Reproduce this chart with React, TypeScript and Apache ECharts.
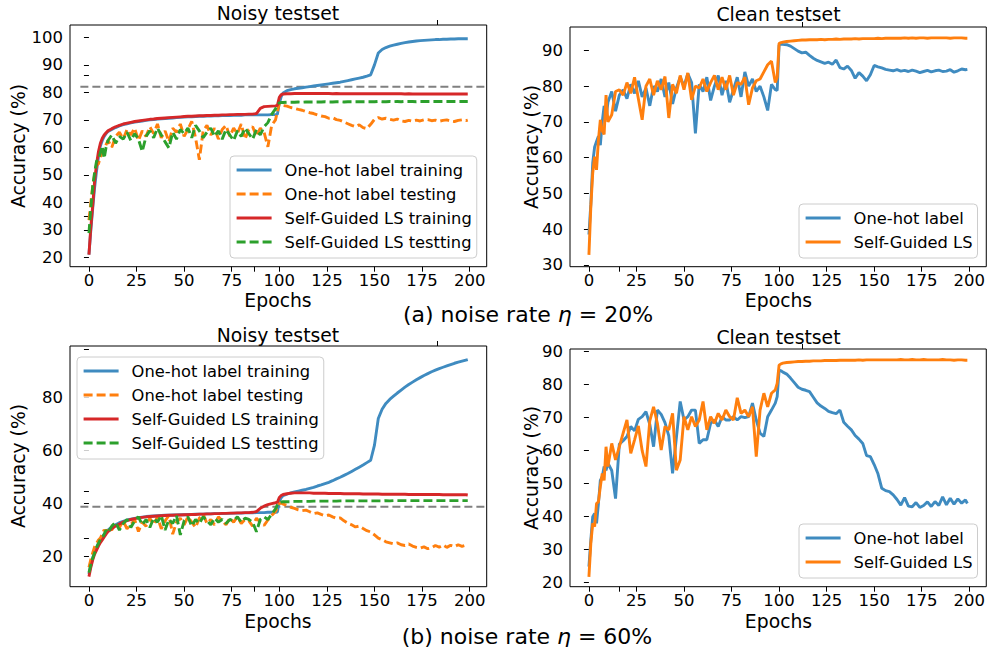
import React, { useEffect, useRef } from "react";
import * as echarts from "echarts";

// ---------- data ----------
const EPOCHS = [
  0, 1, 2, 3, 4, 5, 6, 7, 8, 9, 10,
  12, 14, 16, 18, 20, 22, 24, 26, 28, 30,
  32, 34, 36, 38, 40, 42, 44, 46, 48, 50,
  52, 54, 56, 58, 60, 62, 64, 66, 68, 70,
  72, 74, 76, 78, 80, 82, 84, 86, 88, 90,
  92, 94, 96, 98, 99, 100, 101,
  102, 104, 106, 108, 110, 112, 114, 116, 118, 120,
  122, 124, 126, 128, 130, 132, 134, 136, 138, 140,
  142, 144, 146, 148, 150, 152, 154, 156, 158, 160,
  162, 164, 166, 168, 170, 172, 174, 176, 178, 180,
  182, 184, 186, 188, 190, 192, 194, 196, 198, 199,
];

// (a) noise 20% - noisy testset
const A_ONEHOT_TRAIN = [
  21, 30, 38, 45.5, 51.5, 56.5, 60.5, 62.5, 64, 65, 65.8,
  66.5, 67.2, 67.8, 68.3, 68.6, 68.9, 69.2, 69.4, 69.6, 69.8,
  70, 70.1, 70.3, 70.4, 70.5, 70.6, 70.7, 70.8, 70.9, 71,
  71.1, 71.1, 71.2, 71.3, 71.3, 71.4, 71.4, 71.5, 71.5, 71.6,
  71.6, 71.6, 71.7, 71.7, 71.7, 71.8, 71.8, 71.8, 71.8, 71.8,
  71.8, 71.8, 71.9, 71.9, 72, 76, 78.5,
  79.8, 80.6, 81, 81.3, 81.5, 81.7, 81.9, 82.1, 82.3, 82.5,
  82.7, 82.9, 83.1, 83.3, 83.5, 83.7, 84, 84.3, 84.6, 84.9,
  85.2, 85.5, 85.9, 86.4, 90, 94.3, 95.6, 96.3, 96.8, 97.2,
  97.5, 97.8, 98.1, 98.3, 98.5, 98.7, 98.8, 98.9, 99, 99.1,
  99.2, 99.2, 99.3, 99.3, 99.4, 99.4, 99.5, 99.5, 99.5, 99.5,
];
const A_ONEHOT_TEST = [
  33.5, 40, 46, 50, 53.5, 54, 56.5, 58, 59, 61, 62.5,
  60, 64, 65.5, 63, 66.5, 64.5, 67, 62.5, 66, 64,
  67.5, 65, 68.5, 63.5, 66, 62, 67, 65.5, 68.5, 64,
  66.5, 69.5, 63.5, 55.5, 66, 68, 64.5, 67, 63, 66.5,
  68, 64, 67, 65, 68.5, 63, 66.5, 67.5, 64, 67,
  65.5, 60.2, 68, 70, 73, 76, 75.6,
  75.2, 75, 74.5, 74.2, 73.8, 73.5, 73, 72.6, 72.3, 71.8,
  71.4, 71.2, 70.6, 70.8, 70.1, 69.8, 69.2, 68.6, 68, 67.5,
  68.2, 67.2, 66.8, 68.4, 70.2, 70.8, 70.3, 70.6, 70.2, 69.9,
  70.3, 69.6, 69.4, 69.8, 69.5, 69.9, 69.6, 70, 70.1, 69.7,
  69.9, 69.5, 69.8, 70, 69.6, 69.4, 69.8, 70, 69.7, 69.9,
];
const A_SG_TRAIN = [
  21, 31, 39, 48, 54, 58.5, 61.5, 63.3, 64.5, 65.3, 66,
  66.8, 67.5, 68, 68.5, 68.8, 69.1, 69.4, 69.6, 69.8, 70,
  70.2, 70.3, 70.5, 70.6, 70.7, 70.8, 70.9, 71, 71.1, 71.2,
  71.3, 71.3, 71.4, 71.5, 71.5, 71.6, 71.6, 71.7, 71.7, 71.8,
  71.8, 71.9, 71.9, 72, 72, 72, 72.1, 72.1, 72.3, 74.2,
  74.8, 74.9, 75, 75.1, 75.3, 78.2, 79.2,
  79.4, 79.5, 79.5, 79.6, 79.6, 79.6, 79.6, 79.6, 79.6, 79.6,
  79.6, 79.6, 79.6, 79.5, 79.6, 79.5, 79.5, 79.5, 79.5, 79.5,
  79.5, 79.5, 79.5, 79.5, 79.5, 79.5, 79.5, 79.5, 79.5, 79.5,
  79.5, 79.5, 79.4, 79.5, 79.4, 79.4, 79.4, 79.4, 79.4, 79.4,
  79.4, 79.4, 79.4, 79.4, 79.4, 79.4, 79.4, 79.4, 79.4, 79.4,
];
const A_SG_TEST = [
  28.8, 38, 46, 51, 55, 55.5, 58, 60.5, 56, 60, 62.5,
  64.5, 61.5, 64, 63, 65.5, 62.5, 65, 63, 58.5, 64,
  66, 63.5, 67, 64.5, 62, 59.8, 65.5, 63, 66.5, 65,
  67, 63.5, 68, 66, 63.5, 65.5, 67, 64, 66, 63,
  66.5, 64.5, 62.5, 66, 64, 67, 65, 63, 66.5, 64.5,
  67.5, 69, 72, 74, 75.5, 76.2, 76.3,
  76.3, 76.4, 76.4, 76.4, 76.5, 76.4, 76.5, 76.5, 76.5, 76.5,
  76.5, 76.6, 76.5, 76.5, 76.6, 76.6, 76.5, 76.6, 76.6, 76.6,
  76.6, 76.6, 76.6, 76.6, 76.6, 76.7, 76.6, 76.6, 76.7, 76.6,
  76.7, 76.6, 76.7, 76.7, 76.7, 76.6, 76.7, 76.7, 76.7, 76.7,
  76.7, 76.7, 76.7, 76.7, 76.7, 76.7, 76.7, 76.7, 76.7, 76.7,
];

// (a) noise 20% - clean testset
const A_CLEAN_ONEHOT = [
  38.5, 47, 58.5, 63, 64.5, 66, 63.5, 70, 74.5, 71, 75.5,
  78.5, 73, 77.5, 79, 76.5, 80.5, 78, 81.5, 77, 79.5,
  74.5, 80, 78.5, 82, 77, 81, 75, 79.5, 82.5, 80,
  83.5, 81, 66.8, 80.5, 78.5, 82.5, 76, 80, 83, 77.5,
  81.5, 75.5, 79, 82.5, 77, 84, 80, 82, 78.5, 80,
  77, 73.2, 80.5, 79, 78.8, 91.5, 91.8,
  91.7, 91.6, 91.2, 90.5, 89.8, 89.3, 89.5, 88.6, 87.8, 87.2,
  86.8, 86.4, 86.7, 86.1, 87.3, 85.2, 84.8, 85.6, 84.4, 82.2,
  83.8, 82.8, 81.5, 83.2, 85.8, 85.4, 85.1, 84.7, 84.5, 84.3,
  84.6, 84.2, 84.4, 84.1, 84.5, 84.2, 83.8, 84.1, 84.4, 84.0,
  84.3, 84.5, 84.1, 84.2, 84.6, 83.9, 84.3, 84.8, 84.6, 84.7,
];
const A_CLEAN_SG = [
  32.8, 46.3, 55.7, 60.3, 56.6, 65, 70.6, 67.5, 66.5, 77.5, 70,
  72, 78.5, 79, 77.5, 81, 78, 82.5, 76.5, 70.6, 80,
  82, 77.5, 81.5, 79, 82.7, 71.1, 80.5, 78, 83, 79,
  83.7, 76.2, 80, 79.5, 82, 78.5, 81, 83, 79, 82.5,
  79, 83, 77.5, 81, 80.5, 82.5, 74.8, 79.5, 81.5, 82,
  84, 86, 87, 81, 82.5, 92, 92.2,
  92.3, 92.5, 92.6, 92.7, 92.8, 92.9, 92.9, 93, 93, 93,
  93.1, 93, 93.1, 93.1, 93.2, 93.1, 93.2, 93.2, 93.2, 93.3,
  93.2, 93.3, 93.3, 93.3, 93.3, 93.4, 93.3, 93.4, 93.4, 93.4,
  93.4, 93.4, 93.5, 93.4, 93.5, 93.4, 93.5, 93.5, 93.4, 93.5,
  93.5, 93.5, 93.5, 93.5, 93.4, 93.5, 93.5, 93.5, 93.4, 93.4,
];

// (b) noise 60% - noisy testset
const B_ONEHOT_TRAIN = [
  13.5, 16.8, 19.5, 22, 23.5, 25, 26.5, 27.5, 28.4, 29.2, 30,
  31.2, 32, 32.8, 33.3, 33.8, 34.1, 34.4, 34.7, 34.9, 35.1,
  35.2, 35.3, 35.4, 35.5, 35.6, 35.6, 35.7, 35.7, 35.8, 35.8,
  35.9, 35.9, 36, 36, 36, 36.1, 36.1, 36.2, 36.2, 36.2,
  36.3, 36.3, 36.4, 36.4, 36.4, 36.5, 36.5, 36.5, 36.6, 36.6,
  36.6, 36.7, 36.7, 36.7, 36.8, 41, 42.2,
  43, 43.5, 44, 44.4, 44.7, 45, 45.3, 45.7, 46.1, 46.6,
  47, 47.5, 48, 48.6, 49.3, 49.9, 50.6, 51.3, 52.1, 52.9,
  53.7, 54.5, 55.4, 56.3, 62, 72, 75.5, 77.7, 79.2, 80.4,
  81.6, 82.7, 83.8, 84.8, 85.7, 86.6, 87.4, 88.2, 88.9, 89.6,
  90.2, 90.8, 91.3, 91.8, 92.3, 92.8, 93.2, 93.6, 94, 94.2,
];
const B_ONEHOT_TEST = [
  16, 19, 21.5, 23.8, 25, 26.3, 27, 28.5, 30.1, 29, 31,
  30, 32.5, 31, 33.5, 30.5, 32, 34, 29.5, 33, 31.5,
  34.5, 32, 35, 30.5, 33.5, 35.5, 28.5, 33, 34.5, 32,
  35, 33, 31, 34.5, 36, 32.5, 34, 32, 35, 33.5,
  32, 34.5, 33, 35, 32.5, 34, 33.5, 31.5, 34.5, 33,
  31.8, 33.8, 35.5, 37, 38.5, 40, 40.2,
  39.8, 39.3, 38.6, 38.2, 37.6, 37.3, 37.5, 36.9, 36.2, 36.5,
  35.9, 35.4, 35.7, 35, 34.4, 34.6, 33.5, 32.6, 32, 31.2,
  31.5, 30.6, 29.8, 29.3, 28.2, 27, 26.4, 25.6, 25.2, 24.8,
  25.2, 24.5, 24.2, 24.8, 24, 23.5, 23.2, 23.7, 23, 23.4,
  24.2, 23.6, 24.4, 23.5, 24.3, 23.8, 24.5, 23.9, 24.3, 24,
];
const B_SG_TRAIN = [
  12.5, 16, 18.8, 21, 22.5, 24, 25.3, 26.3, 27.4, 28.5, 29.4,
  30.6, 31.5, 32.3, 33, 33.6, 34, 34.3, 34.6, 34.8, 35,
  35.1, 35.2, 35.3, 35.4, 35.5, 35.6, 35.6, 35.7, 35.7, 35.8,
  35.8, 35.9, 35.9, 36, 36, 36.1, 36.1, 36.2, 36.2, 36.3,
  36.3, 36.4, 36.4, 36.5, 36.5, 36.6, 36.6, 36.7, 37, 38.2,
  39, 39.6, 40, 40.3, 40.5, 42.3, 43,
  43.4, 43.7, 43.9, 44, 44, 44, 44, 44, 43.9, 43.9,
  43.9, 43.9, 43.8, 43.8, 43.8, 43.8, 43.7, 43.7, 43.7, 43.7,
  43.7, 43.6, 43.6, 43.6, 43.6, 43.6, 43.5, 43.5, 43.5, 43.5,
  43.5, 43.5, 43.5, 43.4, 43.4, 43.4, 43.4, 43.4, 43.4, 43.4,
  43.4, 43.4, 43.3, 43.3, 43.3, 43.3, 43.3, 43.3, 43.3, 43.2,
];
const B_SG_TEST = [
  14, 17, 19.5, 21.5, 23.5, 25, 26.5, 27, 28.5, 30, 29,
  31.5, 33, 30, 32.5, 34, 31, 33.5, 35, 32, 34,
  31, 34.5, 33, 35.5, 30, 34, 32.5, 35.5, 28.2, 33.5,
  35, 31.5, 34, 32.5, 35, 33.5, 32, 34.5, 33, 34,
  32.5, 34, 33.5, 35, 33, 34.5, 34, 33, 29.4, 34,
  35, 34, 36, 38, 39.5, 40.4, 40.6,
  40.7, 40.7, 40.7, 40.8, 40.8, 40.8, 40.8, 40.8, 40.9, 40.9,
  40.9, 40.9, 40.9, 40.9, 40.9, 41, 41, 41, 41, 41,
  41, 41, 41, 41, 41, 41, 41, 41.1, 41, 41.1,
  41.1, 41.1, 41.1, 41.1, 41.1, 41.1, 41.1, 41.1, 41.1, 41.1,
  41.1, 41.1, 41.1, 41.1, 41.1, 41.1, 41.1, 41.1, 41.1, 41.1,
];

// (b) noise 60% - clean testset
const B_CLEAN_ONEHOT = [
  24.9, 32.9, 40, 41, 38, 44, 51, 52.1, 55.2, 54, 56.2,
  54, 45.5, 62, 63, 64.3, 67.3, 66, 69.5, 70.3, 71.8,
  68, 61.2, 72.3, 71, 68.5, 64.5, 53.1, 64, 74.9, 69.3,
  70.3, 72.3, 72.3, 62.2, 63.3, 63.3, 68.3, 69.3, 67.3, 70.3,
  69.3, 69.3, 70.3, 69.3, 70.3, 70, 70.3, 74.4, 69.3, 65.3,
  64.3, 70.3, 72.3, 74.4, 76.4, 84.4, 84.2,
  83.8, 83.2, 82, 80.6, 79.2, 78.6, 78.3, 77.9, 76.2, 74.5,
  73.5, 72.8, 71.9, 71.5, 71.2, 72.3, 68.6, 67.4, 66.3, 64.6,
  63.5, 62.2, 58.5, 58.2, 55.8, 53, 48.6, 47.9, 47.6, 46.6,
  45.2, 43.5, 45.8, 43.2, 43, 44.3, 42.8, 43.4, 44.5, 43.1,
  44.6, 43.4, 46, 43.6, 45.6, 43.8, 45.4, 44.1, 45.1, 44,
];
const B_CLEAN_SG = [
  21.8, 31.9, 38, 37, 44, 44.5, 49.1, 53.1, 51, 61.2, 55.2,
  62.2, 57.2, 61.2, 65.3, 69.3, 59.2, 63.3, 67.5, 60, 55.2,
  69, 73.3, 68.3, 60.2, 67.3, 66.3, 71.3, 54.1, 57.2, 70.3,
  66.3, 70.3, 67.3, 69.3, 74.9, 66.3, 70.3, 68.3, 71.3, 69.3,
  72.3, 70.3, 69.3, 76, 71.3, 72.3, 70.3, 73.3, 58.2, 72.3,
  77.4, 73.3, 77.4, 78.4, 80.4, 85.9, 86.3,
  86.5, 86.7, 86.8, 86.9, 87, 87, 87.1, 87.1, 87.2, 87.2,
  87.2, 87.3, 87.3, 87.3, 87.3, 87.4, 87.4, 87.4, 87.4, 87.4,
  87.5, 87.4, 87.5, 87.5, 87.5, 87.5, 87.5, 87.5, 87.5, 87.5,
  87.5, 87.6, 87.5, 87.5, 87.6, 87.5, 87.5, 87.6, 87.5, 87.5,
  87.5, 87.5, 87.6, 87.5, 87.5, 87.4, 87.5, 87.5, 87.4, 87.4,
];

const NOISY_THRESHOLD = [82, 38.8];
const THRESHOLD_SPAN = [-4.5, 209];

const X_TICKS = [0, 25, 50, 75, 100, 125, 150, 175, 200];
const X_EXTRA_LEFT = [87, 183];
const X_EXTRA_RIGHT = [16, 112];
const Y_TICKS_A_NOISY = [20, 30, 40, 50, 60, 70, 80, 90, 100];
const Y_EXTRA_A_NOISY = [34.8, 86.3];
const Y_TICKS_A_CLEAN = [30, 40, 50, 60, 70, 80, 90];
const Y_TICKS_B_NOISY = [20, 40, 60, 80];
const Y_EXTRA_B_NOISY = [26.9, 44.5, 98];
const Y_TICKS_B_CLEAN = [20, 30, 40, 50, 60, 70, 80, 90];

const NAMES_NOISY = [
  "One-hot label training",
  "One-hot label testing",
  "Self-Guided LS training",
  "Self-Guided LS testting",
];
const NAMES_CLEAN = ["One-hot label", "Self-Guided LS"];

// ---------- styles ----------
const FONT = "'DejaVu Sans', sans-serif";
const C_BLUE = "#3f8bc0";
const C_ORANGE = "#ff7f0e";
const C_RED = "#d62728";
const C_GREEN = "#2ca02c";
const X_MIN = -9.95;
const X_MAX = 208.95;
const TICK_FS = 16.5;
const LABEL_FS = 18.8;

const GRIDS = [
  { left: 70, top: 25, width: 416.7, height: 241.7 },
  { left: 570, top: 27, width: 417, height: 239.7 },
  { left: 70, top: 346, width: 416.7, height: 240.7 },
  { left: 570, top: 349, width: 417, height: 237.7 },
];
const Y_RANGES = [
  [16.6, 104.5],
  [29.5, 96.55],
  [8.7, 99.3],
  [18.8, 90.8],
];

const sortNum = (a: number[]) => [...a].sort((p, q) => p - q);

function bottomX(gi: number, extra: number[]) {
  return {
    type: "value",
    gridIndex: gi,
    min: X_MIN,
    max: X_MAX,
    axisLine: { show: false },
    splitLine: { show: false },
    axisTick: {
      show: true,
      length: 5,
      lineStyle: { color: "#000", width: 1 },
      customValues: sortNum([...X_TICKS, extra[0]]),
    },
    axisLabel: {
      customValues: X_TICKS,
      margin: 5,
      fontSize: TICK_FS,
      color: "#000",
      fontFamily: FONT,
    },
  };
}
function topX(gi: number, extra: number[]) {
  return {
    type: "value",
    gridIndex: gi,
    position: "top",
    min: X_MIN,
    max: X_MAX,
    axisLine: { show: false },
    splitLine: { show: false },
    axisTick: {
      show: true,
      length: 5,
      lineStyle: { color: "#000", width: 1 },
      customValues: [extra[1]],
    },
    axisLabel: { show: false },
  };
}
function leftY(gi: number, ticks: number[], extra: number[]) {
  return {
    type: "value",
    gridIndex: gi,
    min: Y_RANGES[gi][0],
    max: Y_RANGES[gi][1],
    axisLine: { show: false },
    splitLine: { show: false },
    axisTick: {
      show: true,
      length: 5,
      lineStyle: { color: "#000", width: 1 },
      customValues: sortNum([...ticks, ...extra]),
    },
    axisLabel: {
      customValues: ticks,
      margin: 7,
      fontSize: TICK_FS,
      color: "#000",
      fontFamily: FONT,
    },
  };
}

const pts = (vals: number[]) => EPOCHS.map((e, i) => [e, vals[i]]);

function lineSeries(name: string, gi: number, vals: number[], color: string, dashed: boolean) {
  return {
    type: "line",
    name,
    xAxisIndex: gi,
    yAxisIndex: gi,
    data: pts(vals),
    symbol: "none",
    showSymbol: false,
    clip: true,
    lineStyle: { color, width: 2.9, type: dashed ? [9, 4] : "solid" },
    itemStyle: { color },
    emphasis: { disabled: true },
  };
}
function thresholdSeries(gi: number, v: number) {
  return {
    type: "line",
    name: "threshold" + gi,
    xAxisIndex: gi,
    yAxisIndex: gi,
    data: [
      [THRESHOLD_SPAN[0], v],
      [THRESHOLD_SPAN[1], v],
    ],
    symbol: "none",
    clip: true,
    silent: true,
    lineStyle: { color: "#808080", width: 2, type: [8, 4] },
    emphasis: { disabled: true },
  };
}

function legend(left: number, top: number, data: string[]) {
  return {
    orient: "vertical",
    left,
    top,
    data,
    selectedMode: false,
    itemWidth: 35,
    itemHeight: 14,
    itemGap: 6,
    padding: [5, 5, 7, 5],
    backgroundColor: "rgba(255,255,255,0.8)",
    borderColor: "#cccccc",
    borderWidth: 1,
    borderRadius: 4,
    lineStyle: { width: 3.2 },
    itemStyle: { opacity: 0, borderWidth: 0 },
    textStyle: {
      fontSize: 16.3,
      fontFamily: FONT,
      color: "#000",
      lineHeight: 18,
      padding: [0, 0, 0, 8],
    },
  };
}

function txt(text: string, x: number, y: number, size: number, rotation = 0) {
  return {
    type: "text",
    x,
    y,
    rotation,
    silent: true,
    style: {
      text,
      fill: "#000",
      fontSize: size,
      fontFamily: FONT,
      align: "center",
      verticalAlign: "middle",
    },
  };
}
function caption(label: string, rate: string, x: number, y: number) {
  return {
    type: "text",
    x,
    y,
    silent: true,
    style: {
      text: label + " noise rate {i|η} = " + rate,
      fill: "#000",
      fontSize: 22,
      fontFamily: FONT,
      align: "center",
      verticalAlign: "middle",
      rich: { i: { fontStyle: "italic", fontSize: 22, fontFamily: FONT, fill: "#000" } },
    },
  };
}

export default function App() {
  const ref = useRef<HTMLDivElement>(null);
  useEffect(() => {
    if (!ref.current) return;
    const chart = echarts.init(ref.current, undefined, { renderer: "svg" });
    const option: any = {
      animation: false,
      backgroundColor: "#fff",
      grid: GRIDS.map((g) => ({
        ...g,
        show: true,
        borderColor: "#000",
        borderWidth: 1,
        backgroundColor: "transparent",
        containLabel: false,
      })),
      xAxis: [
        bottomX(0, X_EXTRA_LEFT),
        bottomX(1, X_EXTRA_RIGHT),
        bottomX(2, X_EXTRA_LEFT),
        bottomX(3, X_EXTRA_RIGHT),
        topX(0, X_EXTRA_LEFT),
        topX(1, X_EXTRA_RIGHT),
        topX(2, X_EXTRA_LEFT),
        topX(3, X_EXTRA_RIGHT),
      ],
      yAxis: [
        leftY(0, Y_TICKS_A_NOISY, Y_EXTRA_A_NOISY),
        leftY(1, Y_TICKS_A_CLEAN, []),
        leftY(2, Y_TICKS_B_NOISY, Y_EXTRA_B_NOISY),
        leftY(3, Y_TICKS_B_CLEAN, []),
      ],
      legend: [
        legend(230, 156, NAMES_NOISY),
        legend(799, 204, NAMES_CLEAN),
        legend(77, 357, NAMES_NOISY),
        legend(799, 524, NAMES_CLEAN),
      ],
      series: [
        thresholdSeries(0, NOISY_THRESHOLD[0]),
        lineSeries(NAMES_NOISY[0], 0, A_ONEHOT_TRAIN, C_BLUE, false),
        lineSeries(NAMES_NOISY[1], 0, A_ONEHOT_TEST, C_ORANGE, true),
        lineSeries(NAMES_NOISY[2], 0, A_SG_TRAIN, C_RED, false),
        lineSeries(NAMES_NOISY[3], 0, A_SG_TEST, C_GREEN, true),
        lineSeries(NAMES_CLEAN[0], 1, A_CLEAN_ONEHOT, C_BLUE, false),
        lineSeries(NAMES_CLEAN[1], 1, A_CLEAN_SG, C_ORANGE, false),
        thresholdSeries(2, NOISY_THRESHOLD[1]),
        lineSeries(NAMES_NOISY[0], 2, B_ONEHOT_TRAIN, C_BLUE, false),
        lineSeries(NAMES_NOISY[1], 2, B_ONEHOT_TEST, C_ORANGE, true),
        lineSeries(NAMES_NOISY[2], 2, B_SG_TRAIN, C_RED, false),
        lineSeries(NAMES_NOISY[3], 2, B_SG_TEST, C_GREEN, true),
        lineSeries(NAMES_CLEAN[0], 3, B_CLEAN_ONEHOT, C_BLUE, false),
        lineSeries(NAMES_CLEAN[1], 3, B_CLEAN_SG, C_ORANGE, false),
      ],
      graphic: [
        txt("Noisy testset", 278, 13, LABEL_FS),
        txt("Clean testset", 778.5, 14, LABEL_FS),
        txt("Noisy testset", 278, 335, LABEL_FS),
        txt("Clean testset", 778.5, 337, LABEL_FS),
        txt("Accuracy (%)", 18, 146, LABEL_FS, Math.PI / 2),
        txt("Accuracy (%)", 531, 147, LABEL_FS, Math.PI / 2),
        txt("Accuracy (%)", 18, 466, LABEL_FS, Math.PI / 2),
        txt("Accuracy (%)", 531, 468, LABEL_FS, Math.PI / 2),
        txt("Epochs", 278, 300, LABEL_FS),
        txt("Epochs", 778.5, 300, LABEL_FS),
        txt("Epochs", 278, 621, LABEL_FS),
        txt("Epochs", 778.5, 621, LABEL_FS),
        caption("(a)", "20%", 528, 314),
        caption("(b)", "60%", 527, 636),
      ],
    };
    chart.setOption(option);
    return () => chart.dispose();
  }, []);
  return (
    <div
      ref={ref}
      style={{ position: "absolute", left: 0, top: 0, width: 988, height: 647 }}
    />
  );
}
